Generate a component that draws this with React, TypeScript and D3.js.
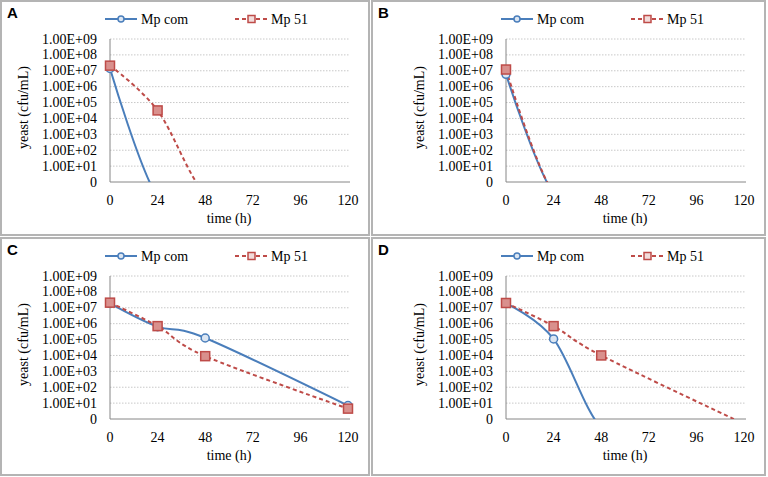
import React, { useEffect, useRef } from 'react';
import * as d3 from 'd3';

// series / tick data
const seriesNames = ['Mp com', 'Mp 51'];
const xTicks = [0, 24, 48, 72, 96, 120];
const yTicks = [1, 1e1, 1e2, 1e3, 1e4, 1e5, 1e6, 1e7, 1e8, 1e9];
const yTickLabels = ['0', '1.00E+01', '1.00E+02', '1.00E+03', '1.00E+04', '1.00E+05', '1.00E+06', '1.00E+07', '1.00E+08', '1.00E+09'];

// values below 1 fall under the axis and are clipped away, as in the original
const timeComA = [0, 24, 48];
const mpComA = [1.4e7, 0.12, 0.12];
const time51A = [0, 24, 48, 72];
const mp51A = [2.1e7, 3.2e4, 0.2, 0.2];

const timeComB = [0, 24, 48];
const mpComB = [6e6, 0.2, 0.2];
const time51B = [0, 24, 48];
const mp51B = [1.2e7, 0.2, 0.2];

const timeComC = [0, 24, 48, 120];
const mpComC = [1.9e7, 6.5e5, 1.25e5, 7];
const errComC = [0, 0, 0, 3];
const time51C = [0, 24, 48, 120];
const mp51C = [2.1e7, 7e5, 9e3, 4.5];

const timeComD = [0, 24, 48, 72];
const mpComD = [1.9e7, 1.1e5, 0.3, 0.3];
const time51D = [0, 24, 48, 120];
const mp51D = [2e7, 7e5, 1e4, 0.5];

const BLUE = '#4a7ebb';
const RED = '#be4b48';
const SERIF = '"Liberation Serif", "Times New Roman", serif';

const panels = [
  { label: 'A', box: [1, 1, 368, 234], left: 110, right: 348, top: 39, bottom: 182,
    com: [timeComA, mpComA, null], m51: [time51A, mp51A] },
  { label: 'B', box: [372, 1, 393, 234], left: 506, right: 744, top: 39, bottom: 182,
    com: [timeComB, mpComB, null], m51: [time51B, mp51B] },
  { label: 'C', box: [1, 238, 368, 237], left: 110, right: 348, top: 276, bottom: 419,
    com: [timeComC, mpComC, errComC], m51: [time51C, mp51C] },
  { label: 'D', box: [372, 238, 393, 237], left: 506, right: 744, top: 276, bottom: 419,
    com: [timeComD, mpComD, null], m51: [time51D, mp51D] },
];

const App = () => {
  const ref = useRef<SVGSVGElement | null>(null);

  useEffect(() => {
    const svg = d3.select(ref.current);
    svg.selectAll('*').remove();
    svg.append('rect').attr('width', 768).attr('height', 477).attr('fill', '#fff');

    panels.forEach((p, pi) => {
      const g = svg.append('g');
      const [bx, by, bw, bh] = p.box;

      g.append('rect')
        .attr('x', bx).attr('y', by).attr('width', bw).attr('height', bh)
        .attr('fill', '#fff').attr('stroke', '#b4b4b4').attr('stroke-width', 2);

      g.append('text')
        .attr('x', bx + 6).attr('y', by + 17)
        .attr('font-family', '"Liberation Sans", Arial, sans-serif')
        .attr('font-weight', 'bold').attr('font-size', 15)
        .text(p.label);

      const x = d3.scaleLinear().domain([0, 120]).range([p.left, p.right]);
      const y = d3.scaleLog().domain([1, 1e9]).range([p.bottom, p.top]);

      // dotted gridlines
      g.append('g').selectAll('line')
        .data(yTicks.slice(1))
        .enter().append('line')
        .attr('x1', p.left).attr('x2', p.right + 2)
        .attr('y1', d => y(d)).attr('y2', d => y(d))
        .attr('stroke', '#c8c8c8').attr('stroke-width', 1)
        .attr('stroke-dasharray', '1.5,1.5');

      // axes
      g.append('line')
        .attr('x1', p.left).attr('x2', p.left).attr('y1', p.top).attr('y2', p.bottom)
        .attr('stroke', '#868686').attr('stroke-width', 1);
      g.append('line')
        .attr('x1', p.left).attr('x2', p.right + 2).attr('y1', p.bottom).attr('y2', p.bottom)
        .attr('stroke', '#868686').attr('stroke-width', 1);

      g.append('g').selectAll('text')
        .data(yTicks)
        .enter().append('text')
        .attr('x', p.left - 13).attr('y', d => y(d) + 4.5)
        .attr('text-anchor', 'end')
        .attr('font-family', SERIF).attr('font-size', 14)
        .text((d, i) => yTickLabels[i]);

      g.append('g').selectAll('text')
        .data(xTicks)
        .enter().append('text')
        .attr('x', d => x(d)).attr('y', p.bottom + 23)
        .attr('text-anchor', 'middle')
        .attr('font-family', SERIF).attr('font-size', 14)
        .text(d => d);

      g.append('text')
        .attr('x', (p.left + p.right) / 2).attr('y', p.bottom + 41)
        .attr('text-anchor', 'middle')
        .attr('font-family', SERIF).attr('font-size', 14)
        .text('time (h)');

      g.append('text')
        .attr('transform', `translate(${p.left - 82},${(p.top + p.bottom) / 2 - 3}) rotate(-90)`)
        .attr('text-anchor', 'middle')
        .attr('font-family', SERIF).attr('font-size', 14)
        .text('yeast (cfu/mL)');

      // legend
      const ly = p.top - 20;
      const lg = g.append('g');
      lg.append('line').attr('x1', p.left - 5).attr('x2', p.left + 27).attr('y1', ly).attr('y2', ly)
        .attr('stroke', BLUE).attr('stroke-width', 2);
      lg.append('circle').attr('cx', p.left + 11).attr('cy', ly).attr('r', 3)
        .attr('fill', '#dce6f2').attr('stroke', BLUE).attr('stroke-width', 1.5);
      lg.append('text').attr('x', p.left + 31).attr('y', ly + 4.5)
        .attr('font-family', SERIF).attr('font-size', 14).text(seriesNames[0]);
      lg.append('line').attr('x1', p.left + 125).attr('x2', p.left + 158).attr('y1', ly).attr('y2', ly)
        .attr('stroke', RED).attr('stroke-width', 2).attr('stroke-dasharray', '4,3');
      lg.append('rect').attr('x', p.left + 138).attr('y', ly - 3.5).attr('width', 7).attr('height', 7)
        .attr('fill', '#f2dcdb').attr('stroke', RED).attr('stroke-width', 1.5);
      lg.append('text').attr('x', p.left + 161).attr('y', ly + 4.5)
        .attr('font-family', SERIF).attr('font-size', 14).text(seriesNames[1]);

      // plot clip: lines stop at the "0" axis
      const clipId = `clip-${pi}`;
      svg.append('clipPath').attr('id', clipId)
        .append('rect')
        .attr('x', p.left - 10).attr('y', p.top - 10)
        .attr('width', p.right - p.left + 20).attr('height', p.bottom - p.top + 10);
      const plot = g.append('g').attr('clip-path', `url(#${clipId})`);

      const line = d3.line<[number, number]>()
        .x(d => x(d[0]))
        .y(d => y(d[1]))
        .curve(d3.curveCardinal.tension(0));

      const com = p.com[0].map((t, i) => [t, p.com[1][i]] as [number, number]);
      const m51 = p.m51[0].map((t, i) => [t, p.m51[1][i]] as [number, number]);

      plot.append('path').datum(com)
        .attr('d', line).attr('fill', 'none')
        .attr('stroke', BLUE).attr('stroke-width', 2);

      plot.append('path').datum(m51)
        .attr('d', line).attr('fill', 'none')
        .attr('stroke', RED).attr('stroke-width', 2).attr('stroke-dasharray', '4,3');

      // error bars
      const err = p.com[2];
      if (err) {
        com.forEach((d, i) => {
          if (!err[i]) return;
          const yTop = y(d[1] + err[i]);
          plot.append('line').attr('x1', x(d[0])).attr('x2', x(d[0]))
            .attr('y1', y(d[1])).attr('y2', yTop).attr('stroke', '#222').attr('stroke-width', 1);
          plot.append('line').attr('x1', x(d[0]) - 3).attr('x2', x(d[0]) + 3)
            .attr('y1', yTop).attr('y2', yTop).attr('stroke', '#222').attr('stroke-width', 1);
        });
      }

      plot.append('g').selectAll('circle')
        .data(com.filter(d => d[1] >= 1))
        .enter().append('circle')
        .attr('cx', d => x(d[0])).attr('cy', d => y(d[1])).attr('r', 4)
        .attr('fill', '#dce6f2').attr('stroke', BLUE).attr('stroke-width', 1.5);

      plot.append('g').selectAll('rect')
        .data(m51.filter(d => d[1] >= 1))
        .enter().append('rect')
        .attr('x', d => x(d[0]) - 4.5).attr('y', d => y(d[1]) - 4.5)
        .attr('width', 9).attr('height', 9)
        .attr('fill', '#d9908d').attr('stroke', RED).attr('stroke-width', 1.5);
    });
  }, []);

  return (
    <svg ref={ref} width={768} height={477}
      style={{ position: 'absolute', left: 0, top: 0, display: 'block' }} />
  );
};

export default App;
